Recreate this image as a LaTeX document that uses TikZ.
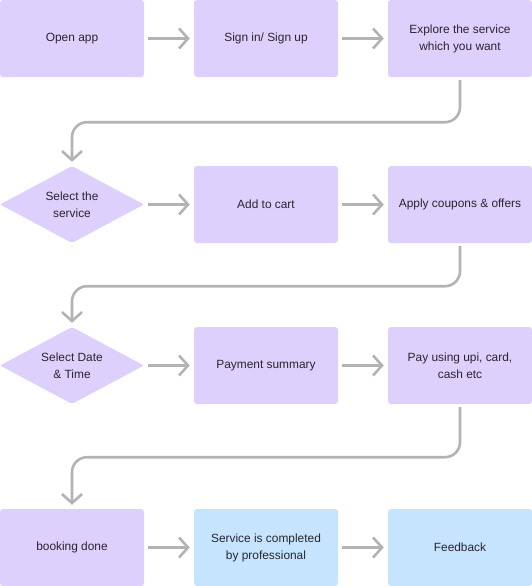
\documentclass[tikz,border=0pt]{standalone}
\usepackage{fontspec}
\setmainfont{Liberation Sans}
\usetikzlibrary{arrows.meta,shapes.geometric}
\definecolor{purp}{HTML}{DDD0FC}
\definecolor{bluef}{HTML}{C6E4FD}
\definecolor{conncol}{HTML}{B3B3B3}
\definecolor{txt}{HTML}{26262E}
\tikzset{
  stepbox/.style={rectangle, minimum width=144pt, minimum height=77pt, inner sep=0pt,
    rounded corners=3pt, fill=purp, draw=none, align=center, text=txt,
    font=\fontsize{11.9pt}{17pt}\selectfont},
  bluebox/.style={stepbox, fill=bluef},
  decision/.style={diamond, aspect=2, minimum width=144pt, minimum height=77pt, inner sep=0pt,
    rounded corners=2pt, fill=purp, draw=none, align=center, text=txt,
    font=\fontsize{11.9pt}{17pt}\selectfont},
  conn/.style={draw=conncol, line width=2.6pt,
    -{Straight Barb[length=9pt,width=20pt]}},
  wrapline/.style={conn, rounded corners=15pt}
}
\begin{document}
\begin{tikzpicture}[x=1pt,y=-1pt]
\useasboundingbox (0,0) rectangle (532,586);
% row 1
\node[stepbox] (b1) at (72,38.5) {Open app};
\node[stepbox] (b2) at (266,38.5) {Sign in/ Sign up};
\node[stepbox] (b3) at (460,38.5) {Explore the service\\which you want};
% row 2
\node[decision] (d1) at (72,204.5) {Select the\\service};
\node[stepbox] (b4) at (266,204.5) {Add to cart};
\node[stepbox] (b5) at (460,204.5) {Apply coupons \& offers};
% row 3
\node[decision] (d2) at (72,365.5) {Select Date\\\& Time};
\node[stepbox] (b6) at (266,365.5) {Payment summary};
\node[stepbox] (b7) at (460,365.5) {Pay using upi, card,\\cash etc};
% row 4
\node[stepbox] (b8) at (72,547.5) {booking done};
\node[bluebox] (b9) at (266,547.5) {Service is completed\\by professional};
\node[bluebox] (b10) at (460,547.5) {Feedback};
% horizontal arrows
\draw[conn] ([xshift=4pt]b1.east) -- ([xshift=-4pt]b2.west);
\draw[conn] ([xshift=4pt]b2.east) -- ([xshift=-4pt]b3.west);
\draw[conn] ([xshift=4pt]d1.east) -- ([xshift=-4pt]b4.west);
\draw[conn] ([xshift=4pt]b4.east) -- ([xshift=-4pt]b5.west);
\draw[conn] ([xshift=4pt]d2.east) -- ([xshift=-4pt]b6.west);
\draw[conn] ([xshift=4pt]b6.east) -- ([xshift=-4pt]b7.west);
\draw[conn] ([xshift=4pt]b8.east) -- ([xshift=-4pt]b9.west);
\draw[conn] ([xshift=4pt]b9.east) -- ([xshift=-4pt]b10.west);
% wrap connectors
\draw[wrapline] ([yshift=-3pt]b3.south) -- ++(0,42) -| ([yshift=4pt]d1.north);
\draw[wrapline] ([yshift=-3pt]b5.south) -- ++(0,40) -| ([yshift=4pt]d2.north);
\draw[wrapline] ([yshift=-3pt]b7.south) -- ++(0,50) -| ([yshift=4pt]b8.north);
\end{tikzpicture}
\end{document}
